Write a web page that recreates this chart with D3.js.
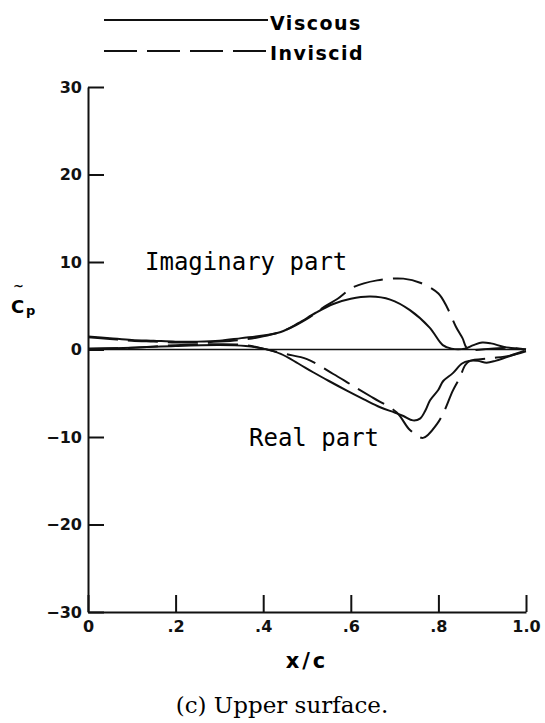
<!DOCTYPE html>
<html>
<head>
<meta charset="utf-8">
<script src="https://cdnjs.cloudflare.com/ajax/libs/d3/7.8.5/d3.min.js"></script>
<style>
  body { margin: 0; background: #fff; }
  .axis text { font-family: "DejaVu Sans", sans-serif; font-weight: bold; font-size: 16px; fill: #111; }
  .axis path, .axis line { stroke: #111; stroke-width: 2; }
</style>
</head>
<body>
<div id="chart"></div>
<script>

// x/c stations and pressure coefficient values
var viscousImagX = [0, 0.05, 0.1, 0.15, 0.2, 0.25, 0.3, 0.35, 0.4, 0.44, 0.48, 0.52, 0.56, 0.6, 0.645, 0.69, 0.735, 0.78, 0.81, 0.83, 0.86, 0.88, 0.90, 0.92, 0.95, 0.98, 1.0];
var viscousImag  = [1.5, 1.3, 1.1, 1.0, 0.9, 0.9, 1.0, 1.3, 1.6, 2.0, 3.0, 4.2, 5.2, 5.8, 6.05, 5.7, 4.5, 2.5, 0.5, 0.1, 0.1, 0.5, 0.8, 0.7, 0.3, 0.1, 0.0];

var inviscidImagX = [0, 0.05, 0.1, 0.15, 0.2, 0.25, 0.3, 0.35, 0.4, 0.45, 0.5, 0.54, 0.57, 0.605, 0.66, 0.72, 0.76, 0.80, 0.82, 0.84, 0.855, 0.867, 0.92, 0.96, 1.0];
var inviscidImag  = [1.4, 1.2, 1.0, 0.9, 0.8, 0.8, 0.9, 1.1, 1.5, 2.2, 3.5, 4.9, 5.8, 7.1, 7.9, 8.1, 7.6, 6.4, 4.8, 2.6, 1.3, 0.1, 0.1, 0.2, 0.0];

var viscousRealX = [0, 0.1, 0.2, 0.3, 0.36, 0.4, 0.44, 0.48, 0.514, 0.55, 0.591, 0.63, 0.667, 0.70, 0.72, 0.742, 0.758, 0.77, 0.781, 0.80, 0.811, 0.833, 0.854, 0.87, 0.89, 0.91, 0.93, 0.96, 1.0];
var viscousReal  = [0.1, 0.2, 0.4, 0.5, 0.4, 0.1, -0.5, -1.6, -2.6, -3.6, -4.7, -5.7, -6.6, -7.2, -7.6, -8.1, -7.9, -7.0, -5.8, -4.6, -3.6, -2.7, -1.6, -1.3, -1.3, -1.5, -1.3, -0.8, -0.2];

var inviscidRealX = [0, 0.1, 0.2, 0.3, 0.36, 0.4, 0.45, 0.5, 0.56, 0.6, 0.65, 0.705, 0.735, 0.765, 0.797, 0.811, 0.833, 0.849, 0.861, 0.872, 0.918, 0.963, 1.0];
var inviscidReal  = [0.1, 0.2, 0.5, 0.6, 0.5, 0.1, -0.5, -1.1, -2.8, -4.0, -5.5, -7.2, -9.2, -10.1, -8.5, -7.3, -4.7, -3.2, -1.8, -1.3, -1.0, -0.7, -0.1];

var xTicks = [0, 0.2, 0.4, 0.6, 0.8, 1.0];
var xTickLabels = ["0", ".2", ".4", ".6", ".8", "1.0"];
var yTicks = [-30, -20, -10, 0, 10, 20, 30];

var width = 545, height = 723;

var svg = d3.select("#chart").append("svg")
  .attr("width", width)
  .attr("height", height);

// Scales
var x = d3.scaleLinear().domain([0, 1]).range([88, 526]);
var y = d3.scaleLinear().domain([-30, 30]).range([612, 87]);

// Axes, ticks point inward
var xAxis = d3.axisBottom(x)
  .tickValues(xTicks)
  .tickSize(-17)
  .tickSizeOuter(0)
  .tickPadding(9)
  .tickFormat(function(d, i){ return xTickLabels[i]; });

var yAxis = d3.axisLeft(y)
  .tickValues(yTicks)
  .tickSize(-16)
  .tickSizeOuter(0)
  .tickPadding(6)
  .tickFormat(d3.format("d"));

svg.append("g")
  .attr("class", "axis x-axis")
  .attr("transform", "translate(0," + y(-30) + ")")
  .call(xAxis);

svg.append("g")
  .attr("class", "axis y-axis")
  .attr("transform", "translate(" + x(0) + ",0)")
  .call(yAxis);

// zero reference line
svg.append("line")
  .attr("x1", x(0)).attr("x2", x(1))
  .attr("y1", y(0)).attr("y2", y(0))
  .attr("stroke", "#111")
  .attr("stroke-width", 1.5);

var line = d3.line()
  .x(function(d){ return x(d[0]); })
  .y(function(d){ return y(d[1]); })
  .curve(d3.curveCatmullRom.alpha(0.5));

function pairs(xs, vs) {
  return xs.map(function(v, i){ return [v, vs[i]]; });
}

var series = [
  { data: pairs(viscousImagX, viscousImag), dash: null },
  { data: pairs(viscousRealX, viscousReal), dash: null },
  { data: pairs(inviscidImagX, inviscidImag), dash: "30,10" },
  { data: pairs(inviscidRealX, inviscidReal), dash: "30,10" }
];

svg.selectAll("path.curve")
  .data(series)
  .enter()
  .append("path")
  .attr("class", "curve")
  .attr("d", function(d){ return line(d.data); })
  .attr("fill", "none")
  .attr("stroke", "#111")
  .attr("stroke-width", 2)
  .attr("stroke-dasharray", function(d){ return d.dash; });

// Legend
var legend = svg.append("g");
legend.append("line")
  .attr("x1", 104).attr("x2", 268).attr("y1", 20).attr("y2", 20)
  .attr("stroke", "#111").attr("stroke-width", 2);
legend.append("line")
  .attr("x1", 104).attr("x2", 268).attr("y1", 51).attr("y2", 51)
  .attr("stroke", "#111").attr("stroke-width", 2)
  .attr("stroke-dasharray", "33,10");
legend.selectAll("text")
  .data(["Viscous", "Inviscid"])
  .enter()
  .append("text")
  .attr("x", 270)
  .attr("y", function(d, i){ return 30 + i * 30; })
  .style("font-family", "DejaVu Sans, sans-serif")
  .style("font-weight", "bold")
  .style("font-size", "19px")
  .style("letter-spacing", "1.5px")
  .text(function(d){ return d; });

// Curve annotations
svg.append("text")
  .attr("x", 145).attr("y", 270)
  .style("font-family", "DejaVu Sans Mono, monospace")
  .style("font-size", "24px")
  .text("Imaginary part");

svg.append("text")
  .attr("x", 249).attr("y", 446)
  .style("font-family", "DejaVu Sans Mono, monospace")
  .style("font-size", "24px")
  .text("Real part");

// Y label: C~p
var ylab = svg.append("g")
  .style("font-family", "DejaVu Sans, sans-serif")
  .style("font-weight", "bold");
ylab.append("text").attr("x", 13).attr("y", 290).style("font-size", "13px").text("~");
ylab.append("text").attr("x", 11).attr("y", 313).style("font-size", "18px").text("C");
ylab.append("text").attr("x", 26).attr("y", 315).style("font-size", "13px").text("p");

// X label
svg.append("text")
  .attr("x", x(0.5)).attr("y", 668)
  .attr("text-anchor", "middle")
  .style("font-family", "DejaVu Sans, sans-serif")
  .style("font-weight", "bold")
  .style("font-size", "21px")
  .style("letter-spacing", "3px")
  .text("x/c");

// Caption
svg.append("text")
  .attr("x", 282).attr("y", 713)
  .attr("text-anchor", "middle")
  .style("font-family", "DejaVu Serif, serif")
  .style("font-size", "23px")
  .text("(c) Upper surface.");

</script>
</body>
</html>
